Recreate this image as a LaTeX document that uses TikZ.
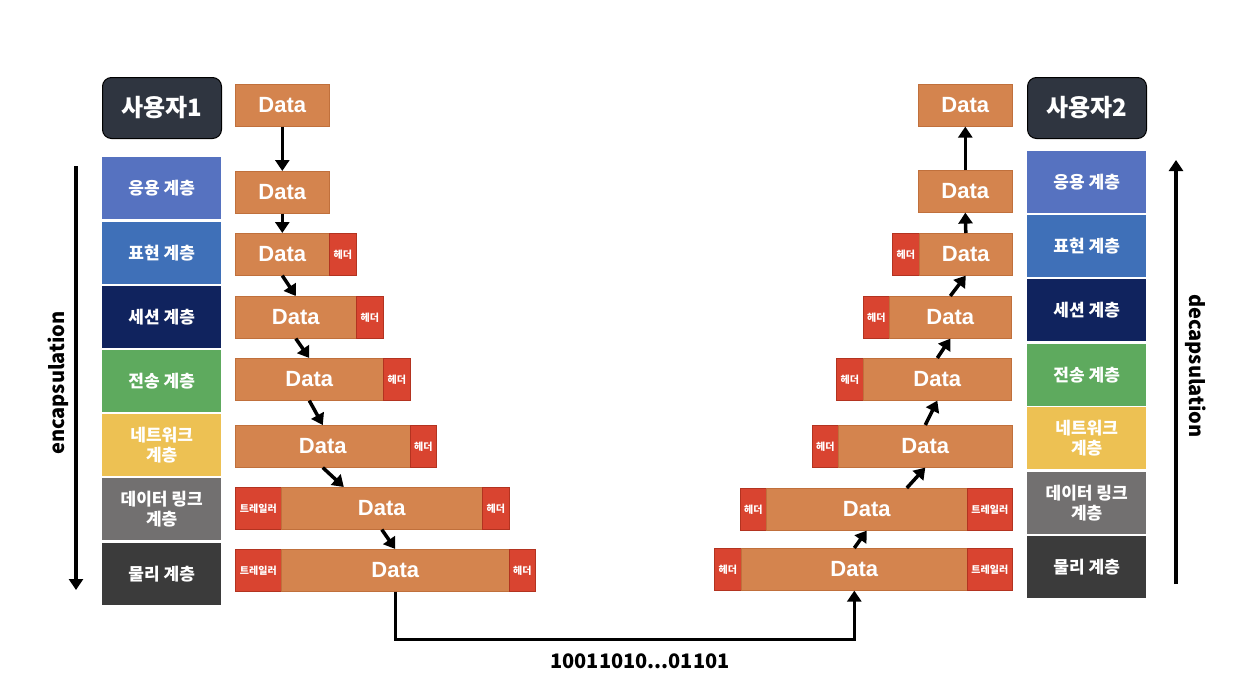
\documentclass[tikz,border=0pt]{standalone}
\usepackage{fontspec}
\setmainfont{Liberation Sans}
\newfontfamily\kr{Noto Sans CJK KR}
\usetikzlibrary{arrows.meta}
\definecolor{userdark}{HTML}{2F3540}
\definecolor{appblue}{HTML}{5672C0}
\definecolor{presblue}{HTML}{3F70B8}
\definecolor{sessnavy}{HTML}{10235E}
\definecolor{transgreen}{HTML}{5EAA5E}
\definecolor{netyellow}{HTML}{EDC153}
\definecolor{linkgray}{HTML}{727070}
\definecolor{physdark}{HTML}{3B3B3B}
\definecolor{dataorange}{HTML}{D4844E}
\definecolor{dataline}{HTML}{C0703C}
\definecolor{hdrred}{HTML}{D94430}
\definecolor{hdrline}{HTML}{B33320}
\tikzset{
  user/.style={anchor=north west, draw=black, line width=1pt, fill=userdark, rounded corners=9pt,
    minimum width=119pt, minimum height=61pt, text=white, font=\kr\bfseries\fontsize{24}{28}\selectfont},
  layer/.style={anchor=north west, minimum width=119pt, minimum height=61.5pt, inner sep=0pt,
    text=white, align=center, font=\kr\bfseries\fontsize{17}{20}\selectfont},
  packet/.style={anchor=north west, draw=dataline, line width=0.6pt, fill=dataorange,
    minimum height=42pt, inner sep=0pt, text=white, font=\bfseries\fontsize{22}{22}\selectfont},
  hdr/.style={anchor=north west, draw=hdrline, line width=0.6pt, fill=hdrred, minimum width=27pt,
    minimum height=42pt, inner sep=0pt, text=white, font=\kr\bfseries\fontsize{10}{10}\selectfont},
  flow/.style={-{Triangle[width=14pt,length=11pt]}, line width=3.5pt},
  sidelabel/.style={font=\kr\bfseries\fontsize{20}{20}\selectfont},
}
\begin{document}
\begin{tikzpicture}[x=1pt,y=-1pt]
    \useasboundingbox (0,0) rectangle (1244,680);
    \fill[white] (0,0) rectangle (1244,680);
    % users
    \node[user] (u1) at (102,77) {사용자1};
    \node[user] (u2) at (1027,77) {사용자2};
    % layer columns
    \foreach \n/\y/\c/\t in {1/157/appblue/응용 계층, 2/222/presblue/표현 계층, 3/286/sessnavy/세션 계층,
        4/350/transgreen/전송 계층, 5/414/netyellow/{네트워크\\계층}, 6/478/linkgray/{데이터 링크\\계층},
        7/543/physdark/물리 계층}
      \node[layer, fill=\c] (L\n) at (102,\y) {\t};
    \foreach \n/\y/\c/\t in {1/151/appblue/응용 계층, 2/215/presblue/표현 계층, 3/279/sessnavy/세션 계층,
        4/344/transgreen/전송 계층, 5/407/netyellow/{네트워크\\계층}, 6/472/linkgray/{데이터 링크\\계층},
        7/536/physdark/물리 계층}
      \node[layer, fill=\c] (R\n) at (1027,\y) {\t};
    % sender side
    \node[packet, minimum width=94pt] (d0) at (235,84) {Data};
    \node[packet, minimum width=94pt] (d1) at (235,171) {Data};
    \node[packet, minimum width=94pt] (d2) at (235,233) {Data};
    \node[hdr] (h2) at (329,233) {헤더};
    \node[packet, minimum width=121pt] (d3) at (235,296) {Data};
    \node[hdr] (h3) at (356,296) {헤더};
    \node[packet, minimum width=148pt] (d4) at (235,358) {Data};
    \node[hdr] (h4) at (383,358) {헤더};
    \node[packet, minimum width=175pt] (d5) at (235,425) {Data};
    \node[hdr, minimum width=26pt] (h5) at (410,425) {헤더};
    \node[hdr, minimum width=46pt] (t6) at (235,487) {트레일러};
    \node[packet, minimum width=201pt] (d6) at (281,487) {Data};
    \node[hdr] (h6) at (482,487) {헤더};
    \node[hdr, minimum width=46pt] (t7) at (235,549) {트레일러};
    \node[packet, minimum width=228pt] (d7) at (281,549) {Data};
    \node[hdr, minimum width=26pt] (h7) at (509,549) {헤더};
    % receiver side
    \node[packet, minimum width=94pt] (e0) at (918,84) {Data};
    \node[packet, minimum width=94pt] (e1) at (918,170) {Data};
    \node[hdr] (g2) at (892,233) {헤더};
    \node[packet, minimum width=93pt] (e2) at (919,233) {Data};
    \node[hdr, minimum width=26pt] (g3) at (863,296) {헤더};
    \node[packet, minimum width=122pt] (e3) at (889,296) {Data};
    \node[hdr] (g4) at (836,358) {헤더};
    \node[packet, minimum width=148pt] (e4) at (863,358) {Data};
    \node[hdr, minimum width=26pt] (g5) at (812,425) {헤더};
    \node[packet, minimum width=174pt] (e5) at (838,425) {Data};
    \node[hdr, minimum width=26pt] (g6) at (740,488) {헤더};
    \node[packet, minimum width=201pt] (e6) at (766,488) {Data};
    \node[hdr, minimum width=45pt] (s6) at (967,488) {트레일러};
    \node[hdr] (g7) at (714,548) {헤더};
    \node[packet, minimum width=226pt] (e7) at (741,548) {Data};
    \node[hdr, minimum width=45pt] (s7) at (967,548) {트레일러};
    % encapsulation steps
    \draw[flow] (d0.south) -- (d1.north);
    \draw[flow] (d1.south) -- (d2.north);
    \draw[flow] (d2.south) -- (d3.north);
    \draw[flow] (d3.south) -- (d4.north);
    \draw[flow] (d4.south) -- (d5.north);
    \draw[flow] (d5.south) -- ([xshift=-38pt]d6.north);
    \draw[flow] (d6.south) -- (d7.north);
    % wire
    \draw[flow] (d7.south) -- ++(0,48) -| (e7.south);
    \node[font=\kr\bfseries\fontsize{20}{20}\selectfont] (bits) at (640,661) {10011010...01101};
    % decapsulation steps
    \draw[flow] (e7.north) -- (e6.south);
    \draw[flow] ([xshift=40pt]e6.north) -- (e5.south);
    \draw[flow] (e5.north) -- (e4.south);
    \draw[flow] (e4.north) -- (e3.south);
    \draw[flow] (e3.north) -- (e2.south);
    \draw[flow] (e2.north) -- (e1.south);
    \draw[flow] (e1.north) -- (e0.south);
    % side arrows
    \coordinate (encTop) at (76,166);
    \coordinate (encEnd) at (76,590);
    \draw[flow] (encTop) -- (encEnd);
    \node[sidelabel, rotate=90] (enc) at (58,383) {encapsulation};
    \coordinate (decBot) at (1176,584);
    \coordinate (decEnd) at (1176,160);
    \draw[flow] (decBot) -- (decEnd);
    \node[sidelabel, rotate=-90] (dec) at (1196,366) {decapsulation};
\end{tikzpicture}
\end{document}
